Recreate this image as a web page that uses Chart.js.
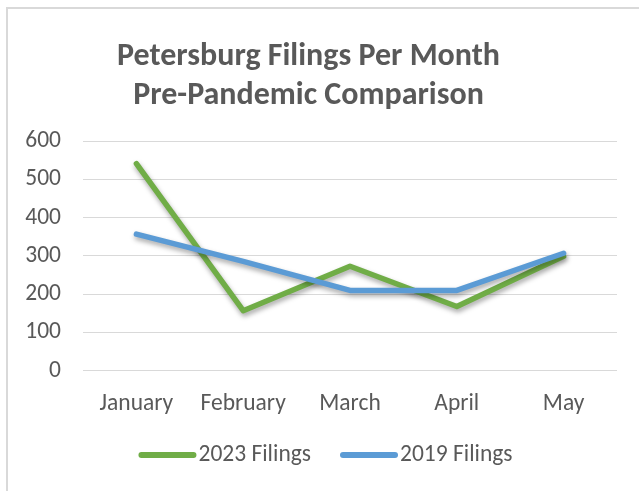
<!DOCTYPE html>
<html>
<head>
<meta charset="utf-8">
<script src="https://cdn.jsdelivr.net/npm/chart.js@4.4.1/dist/chart.umd.min.js"></script>
<style>
  html, body { margin: 0; padding: 0; background: #fff; overflow: hidden; }
  #wrap { position: relative; width: 639px; height: 491px; }
  #frame { position: absolute; left: 6px; top: 7px; width: 700px; height: 600px; border: 2px solid #d9d9d9; box-sizing: border-box; }
  #chart { position: absolute; left: 0; top: 0; }
</style>
</head>
<body>
<div id="wrap">
  <div id="frame"></div>
  <canvas id="chart" width="639" height="491"></canvas>
</div>
<script>
// 数据
const months = ['January', 'February', 'March', 'April', 'May'];
const filings2023 = [541, 157, 273, 168, 299];
const filings2019 = [357, 286, 210, 210, 307];
const yTicks = [0, 100, 200, 300, 400, 500, 600];

const textColor = '#595959';
const fontFamily = 'Carlito, Calibri, Lato, sans-serif';
const labelSize = 23.5;

// 线条阴影
const shadowPlugin = {
    id: 'lineShadow',
    beforeDatasetDraw(chart) {
        const ctx = chart.ctx;
        ctx.save();
        ctx.shadowColor = 'rgba(0, 0, 0, 0.35)';
        ctx.shadowBlur = 5;
        ctx.shadowOffsetX = 1;
        ctx.shadowOffsetY = 3;
    },
    afterDatasetDraw(chart) {
        chart.ctx.restore();
    }
};

// 图例（按数据集顺序，线段紧贴文字）
const legendPlugin = {
    id: 'lineLegend',
    afterDraw(chart) {
        const ctx = chart.ctx;
        const lineLen = 58, gap = 2, itemGap = 29;
        const cx = 325.5, cy = 455;
        ctx.save();
        ctx.font = `${labelSize}px ${fontFamily}`;
        const items = chart.data.datasets.map(ds => ({
            text: ds.label,
            color: ds.borderColor,
            w: lineLen + gap + ctx.measureText(ds.label).width
        }));
        const total = items.reduce((s, it) => s + it.w, 0) + itemGap * (items.length - 1);
        let x = cx - total / 2;
        items.forEach(it => {
            ctx.strokeStyle = it.color;
            ctx.lineWidth = 6;
            ctx.lineCap = 'round';
            ctx.beginPath();
            ctx.moveTo(x + 3, cy);
            ctx.lineTo(x + lineLen - 3, cy);
            ctx.stroke();
            ctx.fillStyle = textColor;
            ctx.textBaseline = 'middle';
            ctx.textAlign = 'left';
            ctx.fillText(it.text, x + lineLen + gap, cy);
            x += it.w + itemGap;
        });
        ctx.restore();
    }
};

new Chart(document.getElementById('chart'), {
    type: 'line',
    data: {
        labels: months,
        datasets: [{
            label: '2023 Filings',
            data: filings2023,
            borderColor: '#70ad47',
            backgroundColor: '#70ad47',
            borderWidth: 5.5,
            borderCapStyle: 'round',
            borderJoinStyle: 'round',
            pointRadius: 0,
            tension: 0,
            order: 1
        }, {
            label: '2019 Filings',
            data: filings2019,
            borderColor: '#5b9bd5',
            backgroundColor: '#5b9bd5',
            borderWidth: 5.5,
            borderCapStyle: 'round',
            borderJoinStyle: 'round',
            pointRadius: 0,
            tension: 0,
            order: 0
        }]
    },
    plugins: [shadowPlugin, legendPlugin],
    options: {
        responsive: false,
        animation: false,
        layout: {
            padding: { left: 0, right: 22, top: 0, bottom: 62 }
        },
        plugins: {
            title: {
                display: true,
                text: ['Petersburg Filings Per Month', 'Pre-Pandemic Comparison'],
                color: textColor,
                font: { family: fontFamily, size: 32, weight: 'bold', lineHeight: 1.22 },
                padding: { top: 37.5, bottom: 25.5 }
            },
            legend: { display: false },
            tooltip: { enabled: false }
        },
        scales: {
            x: {
                offset: true,
                grid: { display: false },
                border: { display: false },
                ticks: {
                    color: textColor,
                    font: { family: fontFamily, size: labelSize },
                    padding: 11,
                    maxRotation: 0
                }
            },
            y: {
                min: 0,
                max: 600,
                afterFit(scale) { scale.width = 83; },
                afterBuildTicks(scale) { scale.ticks = yTicks.map(v => ({ value: v })); },
                grid: { color: '#d9d9d9', lineWidth: 1, drawTicks: false },
                border: { display: false },
                ticks: {
                    color: textColor,
                    font: { family: fontFamily, size: labelSize },
                    padding: 22
                }
            }
        }
    }
});
</script>
</body>
</html>
